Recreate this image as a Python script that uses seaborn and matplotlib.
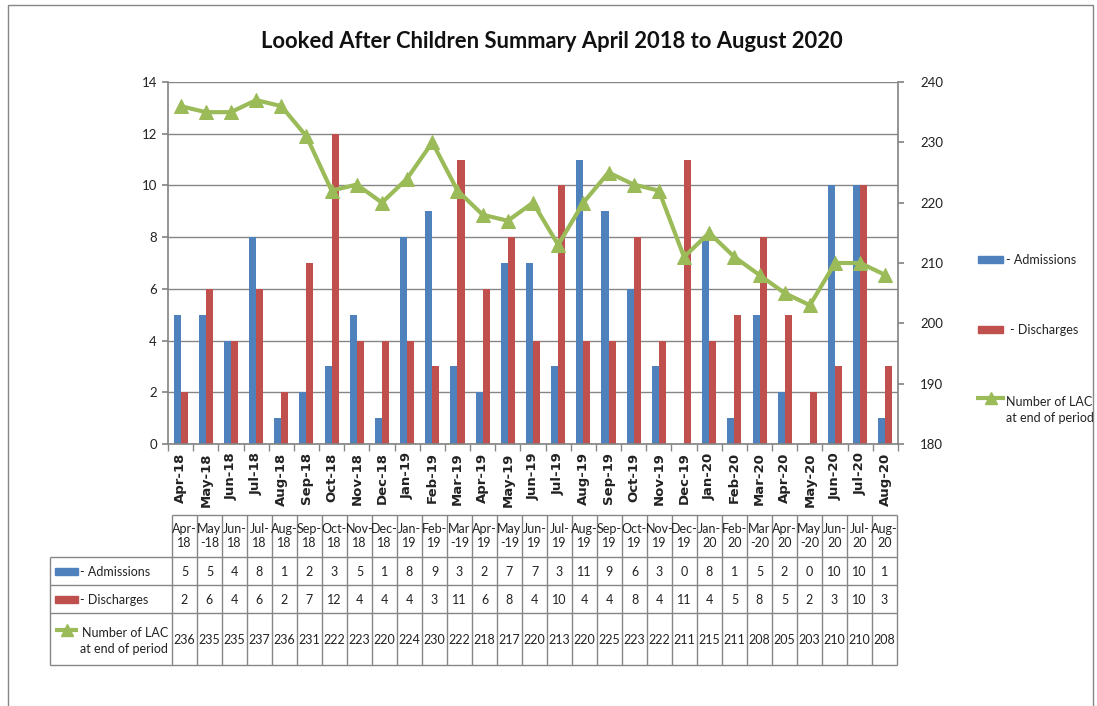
import matplotlib
matplotlib.use("Agg")
import matplotlib.pyplot as plt
from matplotlib.patches import Rectangle
import seaborn as sns
import numpy as np
import pandas as pd

months = ["Apr-18", "May-18", "Jun-18", "Jul-18", "Aug-18", "Sep-18", "Oct-18", "Nov-18",
          "Dec-18", "Jan-19", "Feb-19", "Mar-19", "Apr-19", "May-19", "Jun-19", "Jul-19",
          "Aug-19", "Sep-19", "Oct-19", "Nov-19", "Dec-19", "Jan-20", "Feb-20", "Mar-20",
          "Apr-20", "May-20", "Jun-20", "Jul-20", "Aug-20"]
table_heads = ["Apr-\n18", "May\n-18", "Jun-\n18", "Jul-\n18", "Aug-\n18", "Sep-\n18", "Oct-\n18",
               "Nov-\n18", "Dec-\n18", "Jan-\n19", "Feb-\n19", "Mar\n-19", "Apr-\n19", "May\n-19",
               "Jun-\n19", "Jul-\n19", "Aug-\n19", "Sep-\n19", "Oct-\n19", "Nov-\n19", "Dec-\n19",
               "Jan-\n20", "Feb-\n20", "Mar\n-20", "Apr-\n20", "May\n-20", "Jun-\n20", "Jul-\n20",
               "Aug-\n20"]
admissions = [5, 5, 4, 8, 1, 2, 3, 5, 1, 8, 9, 3, 2, 7, 7, 3, 11, 9, 6, 3, 0, 8, 1, 5, 2, 0, 10, 10, 1]
discharges = [2, 6, 4, 6, 2, 7, 12, 4, 4, 4, 3, 11, 6, 8, 4, 10, 4, 4, 8, 4, 11, 4, 5, 8, 5, 2, 3, 10, 3]
lac = [236, 235, 235, 237, 236, 231, 222, 223, 220, 224, 230, 222, 218, 217, 220, 213, 220,
       225, 223, 222, 211, 215, 211, 208, 205, 203, 210, 210, 208]

blue = "#4F81BD"
red = "#C0504D"
green = "#9BBB59"
grey = "#868686"
ink = "#222222"

sns.set_theme(style="white")
plt.rcParams["font.family"] = ["Lato", "DejaVu Sans"]

df = pd.DataFrame({"month": months * 2,
                   "value": admissions + discharges,
                   "series": ["- Admissions"] * len(months) + ["- Discharges"] * len(months)})

fig = plt.figure(figsize=(10.97, 7.06), dpi=100)
W, H = 1097, 706

# main chart area
ax = fig.add_axes([168 / W, 1 - 444 / H, (898 - 168) / W, (444 - 82) / H])
sns.barplot(data=df, x="month", y="value", hue="series", palette=[blue, red],
            width=0.56, saturation=1, errorbar=None, linewidth=0, ax=ax, legend=False)
ax.set_ylim(0, 14)
ax.set_yticks(range(0, 15, 2))
ax.set_xlim(-0.5, len(months) - 0.5)
ax.set_axisbelow(True)
ax.yaxis.grid(True, color=grey, lw=1)
ax.set_xlabel("")
ax.set_ylabel("")
for s in ["top", "right"]:
    ax.spines[s].set_visible(False)
for s in ["left", "bottom"]:
    ax.spines[s].set_color(grey)
ax.tick_params(axis="y", left=True, length=4, color=grey, labelsize=9.5, pad=4, labelcolor=ink)
ax.set_xticks(range(len(months)))
ax.set_xticklabels(months, rotation=90, fontweight="bold", fontsize=9.5,
                   family="DejaVu Sans", color=ink)
ax.set_xticks(np.arange(-0.5, len(months), 1), minor=True)
ax.tick_params(axis="x", which="major", length=0, pad=6)
ax.tick_params(axis="x", which="minor", bottom=True, length=5, color=grey)

ax2 = ax.twinx()
sns.lineplot(x=np.arange(len(months)), y=lac, color=green, lw=3, marker="^", markersize=10,
             markeredgecolor=green, ax=ax2)
ax2.set_ylim(180, 240)
ax2.set_yticks(range(180, 241, 10))
for s in ["top", "left", "bottom"]:
    ax2.spines[s].set_visible(False)
ax2.spines["right"].set_color(grey)
ax2.tick_params(axis="y", right=True, length=4, color=grey, labelsize=9.5, pad=12, labelcolor=ink)

fig.text(552 / W, 1 - 42 / H, "Looked After Children Summary April 2018 to August 2020",
         ha="center", va="center", fontsize=15.8, fontweight="bold", color="#111111")

# overlay in pixel coordinates for the legend and the data table
ov = fig.add_axes([0, 0, 1, 1])
ov.set_xlim(0, W)
ov.set_ylim(H, 0)
ov.axis("off")
ov.patch.set_alpha(0)

# right legend
ov.add_patch(Rectangle((978, 256), 25, 7, color=blue))
ov.text(1006, 259.5, "- Admissions", ha="left", va="center", fontsize=9, color=ink)
ov.add_patch(Rectangle((978, 326), 25, 7, color=red))
ov.text(1010, 329.5, "- Discharges", ha="left", va="center", fontsize=9, color=ink)
ov.plot([976, 1005], [398, 398], color=green, lw=3, solid_capstyle="butt")
ov.plot([990.5], [398], color=green, marker="^", markersize=8)
ov.text(1006, 410, "Number of LAC\nat end of period", ha="left", va="center",
        fontsize=9, color=ink, linespacing=1.5)

# data table
col_x = 172 + 25 * np.arange(len(months) + 1)
row_y = [515, 557, 585, 613, 665]
ov.vlines(col_x, row_y[0], row_y[-1], color=grey, lw=1)
ov.vlines(50, row_y[1], row_y[-1], color=grey, lw=1)
ov.hlines(row_y[0], col_x[0], col_x[-1], color=grey, lw=1)
ov.hlines(row_y[1:], 50, col_x[-1], color=grey, lw=1)

rows = [admissions, discharges, lac]
for i in range(len(months)):
    cx = (col_x[i] + col_x[i + 1]) / 2
    ov.text(cx, (row_y[0] + row_y[1]) / 2, table_heads[i], ha="center", va="center",
            fontsize=9, color=ink, linespacing=1.15)
    for r, vals in enumerate(rows):
        ov.text(cx, (row_y[r + 1] + row_y[r + 2]) / 2 + 1, str(vals[i]), ha="center",
                va="center", fontsize=9, color=ink)

ov.add_patch(Rectangle((55, 568), 23, 7, color=blue))
ov.text(80, 572, "- Admissions", ha="left", va="center", fontsize=9, color=ink)
ov.add_patch(Rectangle((55, 596), 23, 7, color=red))
ov.text(80, 600, "- Discharges", ha="left", va="center", fontsize=9, color=ink)
ov.plot([55, 78], [630, 630], color=green, lw=3, solid_capstyle="butt")
ov.plot([66.5], [630], color=green, marker="^", markersize=8)
ov.text(168, 641, "Number of LAC\nat end of period", ha="right", va="center",
        multialignment="right", fontsize=9, color=ink, linespacing=1.35)

# outer frame
fig.add_artist(Rectangle((8 / W, -0.05), (1093 - 8) / W, 1.05 - 5 / H, transform=fig.transFigure,
                         fill=False, edgecolor=grey, lw=1))

fig.savefig("out.png", dpi=100)
